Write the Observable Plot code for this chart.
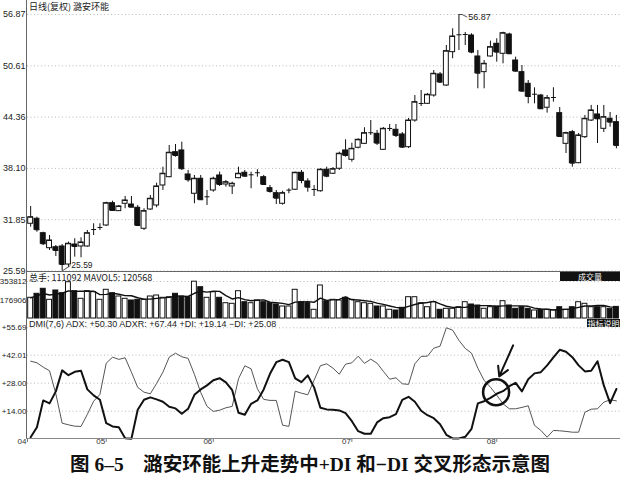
<!DOCTYPE html>
<html><head><meta charset="utf-8">
<script src="https://cdn.jsdelivr.net/npm/d3@7"></script>
<script src="https://cdn.jsdelivr.net/npm/@observablehq/plot@0.6"></script>
<style>
body{margin:0;background:#fff;}
#wrap{position:relative;width:620px;height:485px;overflow:hidden;font-family:"Liberation Sans",Arial,sans-serif;background:#fff;}
#wrap svg{display:block;}
.lbl{position:absolute;font-size:9px;color:#222;white-space:nowrap;line-height:9px;}
.box{position:absolute;background:#111;color:#fff;font-size:8px;line-height:9px;text-align:center;font-family:"Noto Sans CJK SC",sans-serif;}
.ln{position:absolute;background:#666;}
#cap{position:absolute;left:0;top:451px;width:620px;text-align:center;font-weight:bold;font-size:19.5px;line-height:28px;font-family:"Liberation Serif","Noto Sans CJK SC",serif;color:#111;}
</style></head><body>
<div id="wrap">
  <div id="p1"></div><div id="p2"></div><div id="p3"></div>
  <div class="ln" style="left:26px;top:0;width:1px;height:439px;"></div>
  <div class="ln" style="left:26px;top:271px;width:594px;height:1px;"></div>
  <div class="ln" style="left:26px;top:438px;width:594px;height:1px;background:#888"></div>
  <div class="lbl" style="left:29px;top:2px;font-family:'Noto Sans CJK SC',sans-serif;">日线(复权) 潞安环能</div>
  <div class="lbl" style="left:29px;top:273px;font-family:'Noto Sans CJK SC',sans-serif;">总手: 111092 MAVOL5: 120568</div>
  <div class="lbl" style="left:29px;top:320px;">DMI(7,6) ADX: +50.30 ADXR: +67.44 +DI: +19.14 −DI: +25.08</div>
  <div class="box" style="left:560px;top:272px;width:60px;height:9px;">成交量</div>
  <div class="box" style="left:587px;top:319px;width:33px;height:8px;">指标说明</div>
  <div id="cap">图 6–5　潞安环能上升走势中+DI 和−DI 交叉形态示意图</div>
</div>
<script>
const openP = [31.35,31.96,30.20,28.37,28.49,28.58,26.38,28.82,28.58,28.58,
30.62,30.86,31.14,33.86,32.89,33.79,33.70,33.30,30.74,33.09,
33.58,36.02,37.03,40.08,40.29,37.36,35.01,36.84,34.59,35.41,
37.24,36.14,35.90,36.91,37.57,37.24,37.52,37.03,35.69,35.08,
33.79,35.41,35.50,37.57,36.51,35.50,35.32,37.94,37.45,38.06,
40.29,39.15,40.62,41.10,42.40,42.32,40.37,42.93,42.81,42.24,
40.69,43.94,45.98,45.98,46.99,49.56,48.21,52.28,54.35,54.40,
54.31,51.75,49.84,51.75,53.30,52.08,54.43,51.26,49.84,48.42,
47.12,46.99,45.50,46.71,44.84,41.10,42.52,38.74,41.91,43.94,
44.68,42.93,44.15,43.74];
const closeP = [32.15,30.62,28.91,29.31,28.09,26.38,28.91,28.58,29.07,30.20,
30.65,30.90,33.86,32.97,33.46,34.19,33.37,31.14,32.89,34.40,
35.90,37.45,40.01,39.68,38.06,36.71,36.84,34.28,34.64,36.84,
36.14,36.42,36.23,37.45,37.15,37.32,37.57,36.14,35.29,34.47,
35.08,35.45,37.57,36.63,35.81,35.53,37.94,37.15,38.01,39.89,
39.68,40.49,41.59,42.40,42.45,41.18,42.93,42.97,42.12,40.69,
43.94,46.18,46.02,47.08,49.64,48.62,52.40,54.19,54.40,54.43,
52.28,49.71,50.86,52.89,52.28,54.59,52.08,49.96,47.52,46.87,
47.15,45.37,46.67,46.75,41.99,42.40,38.74,42.12,44.15,45.17,
44.15,44.35,43.74,40.90];
const highP = [33.46,32.15,30.32,29.92,28.70,28.82,29.11,29.52,29.64,30.53,
31.35,31.35,33.98,34.10,33.58,34.68,34.68,33.58,33.18,34.80,
36.30,38.25,40.90,41.02,41.30,37.85,37.24,37.24,35.41,37.03,
37.64,36.63,36.42,38.25,37.85,37.64,37.94,37.24,36.02,35.41,
35.32,35.62,37.64,37.85,36.84,36.02,38.06,38.25,38.21,40.08,
41.59,41.18,41.71,43.06,43.94,42.73,43.09,43.46,43.46,42.48,
44.19,46.99,47.60,47.24,50.04,49.80,53.09,55.13,56.87,54.68,
54.52,52.48,51.26,53.62,53.91,54.71,54.59,51.67,50.65,48.82,
47.93,47.12,46.99,47.93,45.53,42.52,42.73,42.36,44.56,45.78,
45.78,45.78,44.92,44.56];
const lowP = [30.93,30.32,28.70,28.09,27.36,25.59,26.05,27.28,27.20,28.49,
29.92,30.53,31.02,32.89,32.85,33.18,33.30,31.02,30.53,32.97,
33.30,35.41,36.96,39.47,37.85,36.42,33.79,34.19,33.58,35.20,
35.90,35.81,34.92,36.84,37.03,35.62,37.03,36.02,35.08,33.70,
33.62,35.01,35.41,36.23,35.20,34.68,35.20,36.96,37.36,37.85,
39.47,38.86,40.49,41.02,42.12,40.90,40.29,42.60,41.87,40.53,
40.53,43.74,45.65,45.90,46.79,48.46,48.09,51.47,52.48,53.09,
52.08,47.81,47.81,51.67,51.06,50.86,51.99,49.84,47.40,45.98,
45.98,45.29,44.84,46.18,41.87,39.92,38.25,38.67,41.75,43.82,
41.14,42.48,43.13,40.49];
const volume = [198000,236200,284000,178800,267800,241900,347100,261100,188400,261100,
251500,178800,274500,241900,210400,188400,172100,178800,178800,210400,
220000,198000,203700,236200,210400,203700,352000,299300,198000,251500,
198000,146300,140600,261100,155900,146300,172100,155900,146300,133900,
114800,114800,274500,155900,146300,83200,315600,165400,178800,172100,
198000,178800,155900,146300,140600,114800,114800,83200,76500,102300,
203700,203700,146300,108100,155900,83200,92800,92800,108100,155900,
133900,124300,92800,108100,114800,165400,124300,92800,108100,92800,
76500,83200,83200,76500,108100,83200,108100,155900,140600,108100,
108100,108100,92800,111092];
const plusDI = [39.0,38.2,36.0,34.2,22.7,8.0,7.2,6.5,6.4,12.4,
19.0,22.4,38.0,41.0,39.9,40.7,33.5,25.9,23.5,22.7,
27.9,33.5,41.0,43.0,41.2,40.4,32.4,23.4,16.4,13.9,
14.5,15.7,16.4,30.2,36.7,35.2,25.2,19.9,19.4,19.4,
7.0,6.4,24.0,23.0,22.2,29.5,36.7,37.7,35.5,32.5,
37.5,38.2,41.5,37.9,40.0,38.0,33.9,30.0,30.7,27.7,
27.4,37.7,41.4,41.5,45.5,46.5,55.69,54.5,49.4,45.4,
43.0,35.5,29.4,26.0,22.0,17.7,15.2,15.2,15.9,16.7,
6.9,4.4,1.0,4.4,4.2,3.9,3.5,3.5,13.5,15.0,
15.2,18.5,19.7,19.14];
const minusDI = [1.0,6.0,19.4,17.9,23.9,34.4,32.0,33.7,34.2,24.9,
21.9,19.7,8.0,6.4,6.0,0.5,0.2,14.7,19.7,20.9,
19.9,18.7,16.2,15.4,12.7,15.2,22.2,24.9,26.9,29.5,
30.5,28.4,24.5,13.2,12.2,17.7,19.4,24.9,32.7,38.5,
39.7,38.5,30.4,28.5,31.9,25.9,15.7,14.9,14.7,14.4,
13.0,9.0,4.0,2.7,2.7,8.4,10.5,11.0,12.5,19.7,
21.2,18.7,14.2,12.0,10.5,7.5,2.2,0.4,0.4,1.2,
5.2,17.9,19.0,20.7,22.7,24.0,26.5,28.2,23.9,30.0,
32.9,33.5,36.9,40.9,44.7,43.7,41.0,36.9,33.9,34.2,
39.0,26.9,18.0,25.08];
const priceTicks = [56.87,50.61,44.36,38.10,31.85,25.59];
const volTicks = [353812,176906];
const dmiTicks = [55.69,42.01,28.00,14.00];
const dmiTickLabels = ["+55.69","+42.01","+28.00","+14.00"];
const monthLabels = ["04","05","06","07","08"];
const monthIdx = [0.5,13,30,52,75];
// annotations (candle index, value)
const hiNote = {i:69, p:56.87, ti:70.3, tp:56.55, text:"56.87"};
const loNote = {i:6, p:25.59, ti:7.3, tp:26.25, text:"25.59"};
const crossNote = {i:74.9, v:23.5};
const arrowNote = {i1:77.6, v1:46.9, i2:75.4, v2:31.4};

const candles = openP.map((o,k)=>({i:k+1,o,c:closeP[k],h:highP[k],l:lowP[k],v:volume[k],pdi:plusDI[k],mdi:minusDI[k],up:closeP[k]>=openP[k]}));
const bodies = candles.filter(d=>Math.abs(d.c-d.o)>0.08);
const xDom = [0.5,94.65];
const hw = 0.39;
const st = {fontFamily:"Liberation Sans, Arial, sans-serif",fontSize:"9px",background:"transparent",overflow:"visible"};

const p1 = Plot.plot({
  width:620,height:272,marginLeft:27,marginRight:0,marginTop:14,marginBottom:1.5,
  x:{domain:xDom,axis:null},y:{domain:[25.59,56.87],axis:null},style:st,
  marks:[
    Plot.ruleY(priceTicks,{stroke:"#aaa",strokeDasharray:"1,2.5",strokeWidth:0.8}),
    Plot.ruleX(candles,{x:"i",y1:"l",y2:"h",stroke:"#111",strokeWidth:1}),
    Plot.rect(bodies,{x1:d=>d.i-hw,x2:d=>d.i+hw,y1:"o",y2:"c",fill:d=>d.up?"white":"#111",stroke:"#111",strokeWidth:1}),
    Plot.link(candles,{x1:d=>d.i-hw,x2:d=>d.i+hw,y1:"c",y2:"c",stroke:"#111",strokeWidth:1}),
    Plot.text(priceTicks,{y:d=>d,text:d=>d.toFixed(2),frameAnchor:"left",textAnchor:"end",dx:-2,fill:"#222"}),
    Plot.link([hiNote],{x1:"i",y1:"p",x2:d=>d.i+0.5,y2:"p",stroke:"#222",strokeWidth:0.8}),
    Plot.link([hiNote],{x1:d=>d.i+0.5,y1:"p",x2:"ti",y2:"tp",stroke:"#222",strokeWidth:0.8}),
    Plot.text([hiNote],{x:"ti",y:"tp",text:"text",textAnchor:"start",dx:1,fill:"#222"}),
    Plot.link([loNote],{x1:"i",y1:"p",x2:"ti",y2:"tp",stroke:"#222",strokeWidth:0.8}),
    Plot.text([loNote],{x:"ti",y:"tp",text:"text",textAnchor:"start",dx:1,fill:"#222",fontSize:8.5})
  ]
});
document.getElementById("p1").appendChild(p1);

const p2 = Plot.plot({
  width:620,height:48,marginLeft:27,marginRight:0,marginTop:9,marginBottom:2,
  x:{domain:xDom,axis:null},y:{domain:[0,353812],axis:null},style:st,
  marks:[
    Plot.ruleY(volTicks,{stroke:"#aaa",strokeDasharray:"1,2.5",strokeWidth:0.8}),
    Plot.rect(candles,{x1:d=>d.i-hw,x2:d=>d.i+hw,y1:d=>0,y2:"v",fill:d=>d.up?"white":"#111",stroke:"#111",strokeWidth:1}),
    Plot.line(candles,Plot.windowY({k:5,anchor:"end"},{x:"i",y:"v",stroke:"#111",strokeWidth:1.4})),
    Plot.text(volTicks,{y:d=>d,text:d=>String(d),frameAnchor:"left",textAnchor:"end",dx:-1,fill:"#222",fontSize:8})
  ]
});
document.getElementById("p2").appendChild(p2);

const p3 = Plot.plot({
  width:620,height:130,marginLeft:27,marginRight:0,marginTop:7.3,marginBottom:11.3,
  x:{domain:xDom,axis:null},y:{domain:[0,55.69],axis:null},style:st,
  marks:[
    Plot.ruleY(dmiTicks,{stroke:"#aaa",strokeDasharray:"1,2.5",strokeWidth:0.8}),
    Plot.line(candles,{x:"i",y:"pdi",stroke:"#555",strokeWidth:1}),
    Plot.line(candles,{x:"i",y:"mdi",stroke:"#111",strokeWidth:2}),
    Plot.dot([crossNote],{x:"i",y:"v",r:13,stroke:"#111",strokeWidth:2.6,fill:"none"}),
    Plot.arrow([arrowNote],{x1:"i1",y1:"v1",x2:"i2",y2:"v2",stroke:"#111",strokeWidth:2,headLength:8}),
    Plot.text(dmiTicks,{y:d=>d,text:(d,k)=>dmiTickLabels[k],frameAnchor:"left",textAnchor:"end",dx:-1,fill:"#222",fontSize:8}),
    Plot.ruleX(monthIdx,{x:d=>d,y1:d=>0,y2:d=>-1.6,stroke:"#555",strokeWidth:0.8}),
    Plot.text(monthLabels,{x:(d,k)=>monthIdx[k],text:d=>d,frameAnchor:"bottom",textAnchor:"end",dx:-1,dy:5,fill:"#333",fontSize:8})
  ]
});
document.getElementById("p3").appendChild(p3);
</script>
</body></html>
